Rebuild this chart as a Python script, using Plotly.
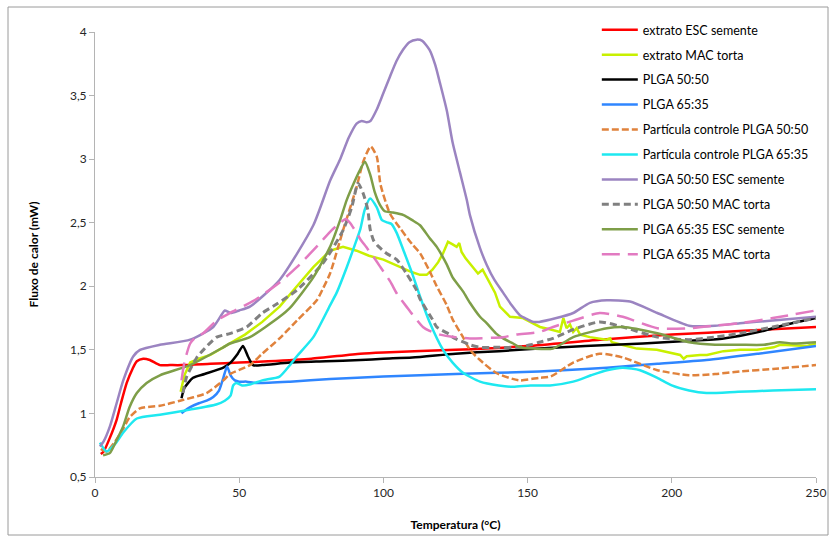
import plotly.graph_objects as go

# ---------------- data ----------------
series_names = [
    "extrato ESC semente", "extrato MAC torta", "PLGA 50:50", "PLGA 65:35",
    "Partícula controle PLGA 50:50", "Partícula controle PLGA 65:35",
    "PLGA 50:50 ESC semente", "PLGA 50:50 MAC torta",
    "PLGA 65:35 ESC semente", "PLGA 65:35 MAC torta",
]

red_t = [2, 3, 5, 7.5, 9, 11, 13, 14.5, 16.7, 19, 22.5, 26, 30, 40, 50, 60, 75, 92, 100, 125, 150, 175, 200, 225, 250]
red_v = [0.68, 0.70, 0.80, 0.95, 1.08, 1.24, 1.35, 1.41, 1.43, 1.42, 1.38, 1.38, 1.38, 1.39, 1.40, 1.41, 1.43, 1.47, 1.48, 1.50, 1.53, 1.58, 1.62, 1.65, 1.68]

yel_t = [29.7, 31, 33, 36, 40, 46.8, 52, 58, 64, 70, 75.7, 81.5, 86, 90.7, 95, 100, 105, 110, 112.7, 115, 117, 119,
         120.7, 122.4, 124, 125.4, 126.3, 127.1, 128.5, 130, 132.8, 134.4, 135.8, 138.7, 140.4, 143.9, 148.4, 152,
         154.3, 158, 161.2, 162.4, 163.5, 164.7, 165.8, 167, 168.2, 171.6, 177.4, 178.6, 179.2, 180.9, 187.9, 194.8,
         202.9, 204.1, 205.2, 209.8, 212.2, 217.9, 223.7, 229.5, 235.3, 237.6, 246.9, 250]
yel_v = [1.17, 1.30, 1.40, 1.43, 1.46, 1.55, 1.62, 1.72, 1.84, 2.00, 2.15, 2.28, 2.31, 2.28, 2.24, 2.21, 2.16, 2.11, 2.09, 2.09, 2.13, 2.19,
         2.26, 2.35, 2.33, 2.31, 2.34, 2.27, 2.22, 2.18, 2.10, 2.13, 2.07, 1.95, 1.84, 1.76, 1.75, 1.71,
         1.68, 1.66, 1.64, 1.75, 1.67, 1.70, 1.64, 1.67, 1.62, 1.60, 1.58, 1.59, 1.56, 1.55, 1.51, 1.50,
         1.46, 1.43, 1.45, 1.46, 1.46, 1.49, 1.50, 1.50, 1.52, 1.54, 1.53, 1.55]

blk_t = [30, 31, 34, 38, 44.5, 47, 49.5, 51.3, 53, 54.8, 58, 67.6, 80, 92, 100, 110, 125, 140, 154, 170, 190, 205, 218, 230, 240, 250]
blk_v = [1.12, 1.20, 1.28, 1.31, 1.36, 1.40, 1.47, 1.53, 1.45, 1.38, 1.38, 1.40, 1.41, 1.42, 1.43, 1.44, 1.47, 1.49, 1.51, 1.53, 1.55, 1.57, 1.59, 1.64, 1.70, 1.75]

blu_t = [30, 31, 33, 36, 38.7, 41, 43, 44.5, 45.8, 47, 48.5, 50, 52.6, 56, 67.6, 81.5, 100, 125, 154, 177.5, 195, 212, 230, 250]
blu_v = [1.00, 1.02, 1.05, 1.08, 1.10, 1.13, 1.18, 1.28, 1.37, 1.30, 1.26, 1.25, 1.25, 1.24, 1.25, 1.27, 1.29, 1.31, 1.33, 1.36, 1.39, 1.42, 1.47, 1.53]

org_t = [2, 4, 7, 9.8, 12, 15.6, 22.5, 29.5, 38.7, 44.5, 46.8, 53.7, 58, 64, 70, 76.9, 79, 81.5, 86, 90.7, 93, 95.6, 97.7,
         99, 102.3, 106, 110, 112.7, 116, 118.5, 122, 124, 127.6, 130, 133.5, 139, 147, 154, 158, 165.8, 175, 183,
         195, 206, 215, 223.6, 235, 250]
org_v = [0.72, 0.70, 0.78, 0.88, 0.97, 1.04, 1.06, 1.10, 1.16, 1.26, 1.31, 1.38, 1.47, 1.59, 1.73, 1.89, 1.98, 2.10, 2.44, 2.78, 2.98, 3.10, 3.02,
         2.80, 2.57, 2.45, 2.33, 2.26, 2.12, 2.00, 1.85, 1.74, 1.60, 1.50, 1.42, 1.32, 1.26, 1.28, 1.29, 1.40, 1.47, 1.44,
         1.34, 1.30, 1.31, 1.33, 1.35, 1.38]

cya_t = [1.7, 4, 7, 9.8, 14.5, 22.5, 33, 42, 45, 47, 47.9, 49, 51, 54, 58, 64, 67.6, 70, 75.7, 81.5, 83.8, 87.3, 90, 92, 93.5,
         95.4, 97.7, 99.5, 101.6, 102.8, 104.6, 107, 110, 112.7, 116, 120.7, 124, 127.6, 133.5, 140, 145, 151, 157.8,
         165.8, 172, 177.5, 183, 189, 195, 200, 206, 212, 223, 235, 250]
cya_v = [0.77, 0.70, 0.76, 0.85, 0.96, 0.99, 1.03, 1.07, 1.10, 1.14, 1.22, 1.24, 1.22, 1.23, 1.26, 1.29, 1.38, 1.45, 1.60, 1.85, 1.95, 2.15, 2.32, 2.45, 2.60,
         2.69, 2.62, 2.52, 2.50, 2.49, 2.42, 2.28, 2.10, 1.92, 1.72, 1.50, 1.40, 1.32, 1.25, 1.22, 1.21, 1.22, 1.22,
         1.25, 1.30, 1.34, 1.36, 1.34, 1.28, 1.22, 1.18, 1.16, 1.17, 1.18, 1.19]

pur_t = [1.7, 3, 5.2, 7.5, 9.8, 13.3, 15.6, 22.5, 33, 41, 44, 45, 47, 50, 53.7, 64, 75.7, 81.5, 85, 88, 90.7, 92.5, 94.2, 95.5,
         97.7, 100, 102.3, 104.5, 106.8, 109, 111.5, 113.5, 116, 118, 119.6, 122, 124, 126.5, 128.9, 130, 133.5, 135.8,
         138.5, 141.5, 144.5, 147.4, 150, 152, 154, 160, 165.8, 171.6, 177.5, 185.5, 195, 206, 215, 223.6, 235, 250]
pur_v = [0.74, 0.78, 0.90, 1.08, 1.26, 1.45, 1.50, 1.54, 1.58, 1.68, 1.78, 1.81, 1.79, 1.81, 1.84, 2.05, 2.48, 2.83, 3.00, 3.17, 3.28, 3.30, 3.29, 3.30,
         3.39, 3.52, 3.65, 3.77, 3.86, 3.92, 3.94, 3.93, 3.86, 3.74, 3.60, 3.38, 3.13, 2.90, 2.68, 2.56, 2.30, 2.17,
         2.05, 1.95, 1.85, 1.77, 1.74, 1.72, 1.72, 1.75, 1.79, 1.87, 1.89, 1.88, 1.79, 1.69, 1.69, 1.71, 1.73, 1.76]

gry_t = [30.5, 31.8, 35.3, 38, 42.2, 47, 52.6, 58, 63, 70, 79, 86, 89, 91.2, 93, 94.6, 95.4, 96.6, 98, 101, 104.6, 108,
         111.5, 112.7, 117, 118.5, 123, 124, 130, 133.5, 139, 147, 151, 154, 158.8, 165.8, 175, 183, 195, 206, 215,
         223.6, 235, 250]
gry_v = [1.16, 1.29, 1.44, 1.51, 1.60, 1.63, 1.68, 1.79, 1.86, 1.97, 2.18, 2.44, 2.62, 2.81, 2.73, 2.60, 2.45, 2.36, 2.32, 2.26, 2.21, 2.10,
         1.97, 1.90, 1.74, 1.68, 1.62, 1.60, 1.54, 1.52, 1.52, 1.52, 1.54, 1.56, 1.59, 1.66, 1.72, 1.68, 1.60, 1.58, 1.60,
         1.63, 1.68, 1.75]

olv_t = [2.8, 5.2, 7.5, 9.8, 12, 14.5, 17.9, 22.5, 33, 44.5, 46.8, 53.7, 64, 67.6, 75.7, 81.5, 85, 87.3, 90.7, 92, 93.6,
         95.4, 97, 98.8, 100.5, 103.3, 107, 110, 112.7, 116, 118.5, 122, 124, 127.6, 130, 133.5, 135.8, 139, 141.5,
         145, 147.4, 152, 158.8, 165.8, 177.5, 183, 195, 206, 215, 223.6, 232, 237.5, 242, 250]
olv_v = [0.67, 0.69, 0.79, 0.90, 1.05, 1.16, 1.24, 1.30, 1.38, 1.52, 1.55, 1.60, 1.76, 1.83, 2.07, 2.31, 2.52, 2.68, 2.86, 2.92, 2.98,
         2.88, 2.74, 2.64, 2.59, 2.58, 2.56, 2.52, 2.48, 2.38, 2.31, 2.17, 2.07, 1.96, 1.87, 1.76, 1.71, 1.63, 1.59,
         1.55, 1.52, 1.51, 1.51, 1.60, 1.67, 1.68, 1.63, 1.56, 1.54, 1.54, 1.54, 1.56, 1.55, 1.56]

pnk_t = [30, 31, 33, 35, 37.5, 42.2, 46.8, 52, 56, 64, 70, 78, 82, 85, 87, 88.4, 90.7, 92, 94, 96.6, 99, 102.3, 105, 108,
         110, 113.7, 116, 119.6, 125, 130, 141.5, 146, 154, 158.8, 165.8, 175, 183, 195, 206, 215, 223.6, 235, 250]
pnk_v = [1.26, 1.40, 1.55, 1.60, 1.63, 1.73, 1.79, 1.85, 1.90, 2.03, 2.15, 2.34, 2.44, 2.50, 2.53, 2.50, 2.42, 2.37, 2.31, 2.23, 2.15, 2.04, 1.93, 1.84,
         1.78, 1.68, 1.65, 1.62, 1.60, 1.59, 1.60, 1.62, 1.64, 1.68, 1.73, 1.79, 1.76, 1.67, 1.67, 1.69, 1.71, 1.75, 1.81]

x_tick_vals = [0, 50, 100, 150, 200, 250]
y_tick_vals = [0.5, 1, 1.5, 2, 2.5, 3, 3.5, 4]
y_tick_text = ["0,5", "1", "1,5", "2", "2,5", "3", "3,5", "4"]

# ---------------- styles ----------------
xs = [red_t, yel_t, blk_t, blu_t, org_t, cya_t, pur_t, gry_t, olv_t, pnk_t]
ys = [red_v, yel_v, blk_v, blu_v, org_v, cya_v, pur_v, gry_v, olv_v, pnk_v]
colors = ["#ff0000", "#c8f000", "#000000", "#2f86ff", "#e0823c", "#1ee8f0",
          "#9b84c1", "#808080", "#7e9e48", "#e27ac1"]
dashes = ["solid", "solid", "solid", "solid", "7px,3px", "solid", "solid", "7px,4px", "solid", "18px,8px"]
widths = [2.5, 2.5, 2.5, 2.5, 2.5, 2.5, 2.5, 3, 2.5, 2.5]
shapes = ["spline", "linear", "spline", "spline", "spline", "spline", "spline", "spline", "spline", "spline"]

fig = go.Figure()
for i, name in enumerate(series_names):
    fig.add_trace(go.Scatter(
        x=xs[i], y=ys[i], mode="lines", name=name, legendgroup=f"g{i}",
        line=dict(color=colors[i], width=widths[i], dash=dashes[i], shape=shapes[i], smoothing=0.6),
    ))

font_family = "Lato, 'Noto Sans', sans-serif"
fig.update_layout(
    width=830, height=540,
    margin=dict(l=95, r=14, t=32, b=63),
    paper_bgcolor="white", plot_bgcolor="white",
    font=dict(family=font_family, size=12, color="#1a1a1a"),
    showlegend=True,
    legend=dict(x=0.696, y=1.038, xanchor="left", yanchor="top",
                bgcolor="rgba(0,0,0,0)", font=dict(size=12.5, color="#000"),
                tracegroupgap=5.7, itemwidth=36),
    xaxis=dict(range=[0, 250], tickvals=x_tick_vals, showgrid=False, zeroline=False, automargin=False,
               showline=True, linecolor="#b4b4b4", linewidth=1,
               ticks="outside", ticklen=5, tickcolor="#b4b4b4",
               tickfont=dict(size=12, color="#262626"),
               title=dict(text="<b>Temperatura (°C)</b>", font=dict(size=12, color="#000"), standoff=21)),
    yaxis=dict(range=[0.5, 4], tickvals=y_tick_vals, ticktext=y_tick_text, showgrid=False, zeroline=False, automargin=False,
               showline=True, linecolor="#b4b4b4", linewidth=1,
               ticks="outside", ticklen=5, tickcolor="#b4b4b4",
               tickfont=dict(size=12, color="#262626"),
               title=dict(text="<b>Fluxo de calor (mW)</b>", font=dict(size=12, color="#000"), standoff=28)),
    shapes=[dict(type="rect", xref="paper", yref="paper",
                 x0=(8 - 95) / 721, x1=(828 - 95) / 721, y0=(477 - 535) / 445, y1=(477 - 7) / 445,
                 line=dict(color="#9a9a9a", width=1), layer="below")],
)

fig.write_html("out.html")
